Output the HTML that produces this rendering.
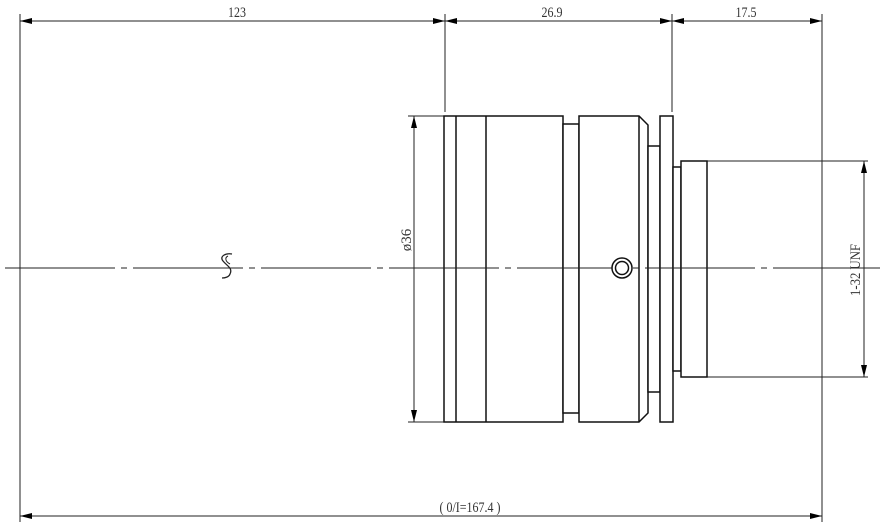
<!DOCTYPE html>
<html><head><meta charset="utf-8"><style>body{margin:0;background:#fff}svg{display:block}</style></head>
<body>
<svg width="884" height="527" viewBox="0 0 884 527" xmlns="http://www.w3.org/2000/svg">
<defs>
<marker id="a" viewBox="0 0 12 6" refX="12" refY="3" markerWidth="12" markerHeight="6" orient="auto-start-reverse" markerUnits="userSpaceOnUse"><path d="M0,0L12,3L0,6z" fill="#000"/></marker>
</defs>
<g stroke="#222" stroke-width="1" fill="none">
<line x1="20" y1="14" x2="20" y2="522"/>
<line x1="445" y1="14" x2="445" y2="112"/>
<line x1="672" y1="14" x2="672" y2="112"/>
<line x1="822" y1="14" x2="822" y2="522"/>
<line x1="20" y1="21" x2="445" y2="21" marker-start="url(#a)" marker-end="url(#a)"/>
<line x1="445" y1="21" x2="672" y2="21" marker-start="url(#a)" marker-end="url(#a)"/>
<line x1="672" y1="21" x2="822" y2="21" marker-start="url(#a)" marker-end="url(#a)"/>
<line x1="20" y1="516" x2="822" y2="516" marker-start="url(#a)" marker-end="url(#a)"/>
<line x1="408" y1="116" x2="444" y2="116"/>
<line x1="408" y1="422" x2="444" y2="422"/>
<line x1="414" y1="116" x2="414" y2="422" marker-start="url(#a)" marker-end="url(#a)"/>
<line x1="707" y1="161" x2="868" y2="161"/>
<line x1="707" y1="377" x2="868" y2="377"/>
<line x1="864" y1="161" x2="864" y2="377" marker-start="url(#a)" marker-end="url(#a)"/>
</g>
<g stroke="#111" stroke-width="1.5" fill="#fff">
<rect x="444" y="116" width="119" height="306"/>
<line x1="456" y1="116" x2="456" y2="422"/>
<line x1="486" y1="116" x2="486" y2="422"/>
<rect x="563" y="124" width="16" height="289"/>
<path d="M579,116H639L648,125V413L639,422H579Z"/>
<line x1="639" y1="116" x2="639" y2="422"/>
<rect x="648" y="146" width="12" height="246"/>
<rect x="660" y="116" width="13" height="306"/>
<rect x="673" y="167" width="8" height="204"/>
<rect x="681" y="161" width="26" height="216"/>
</g>
<g stroke="#222" stroke-width="1" fill="none">
<line x1="5" y1="268" x2="880" y2="268" stroke-dasharray="110,6,6,6"/>
<line x1="20" y1="244" x2="20" y2="296"/>
</g>
<g stroke="#111" stroke-width="1.5" fill="#fff">
<circle cx="622" cy="268" r="10"/>
<circle cx="622" cy="268" r="6.5"/>
</g>
<path d="M232,254c-6,-1-13,2-9,7s10,7,7,13c-1,3-5,4-8,4" stroke="#222" stroke-width="1.3" fill="none"/>
<path d="M228,256c-4,2-2,6,2,8" stroke="#222" stroke-width="1" fill="none"/>
<g font-family="Liberation Serif, serif" font-size="15" fill="#333" text-anchor="middle">
<text x="237" y="17" transform="translate(237 0) scale(0.8 1) translate(-237 0)">123</text>
<text x="552" y="17" transform="translate(552 0) scale(0.8 1) translate(-552 0)">26.9</text>
<text x="746" y="17" transform="translate(746 0) scale(0.8 1) translate(-746 0)">17.5</text>
<text x="470" y="512" transform="translate(470 0) scale(0.8 1) translate(-470 0)">( 0/I=167.4 )</text>
<text transform="translate(411 240) rotate(-90)">ø36</text>
<text transform="translate(860 270) rotate(-90) scale(0.85 1)">1-32 UNF</text>
</g>
</svg>
</body></html>
